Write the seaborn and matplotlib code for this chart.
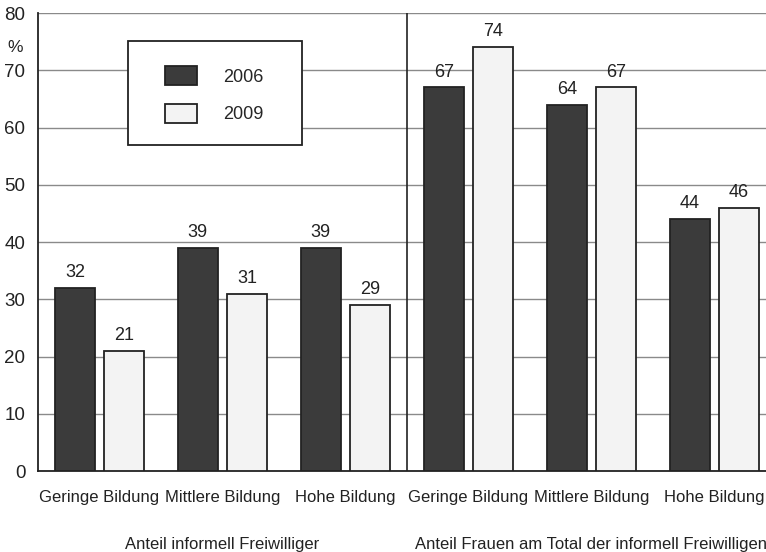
import numpy as np
import pandas as pd
import matplotlib.pyplot as plt
import matplotlib.patches as mpatches
import seaborn as sns

# Werte aus der Grafik
bildung = ['Geringe Bildung', 'Mittlere Bildung', 'Hohe Bildung',
           'Geringe Bildung', 'Mittlere Bildung', 'Hohe Bildung']
gruppe_keys = ['A1', 'A2', 'A3', 'F1', 'F2', 'F3']
gruppen = ['Anteil informell Freiwilliger',
           'Anteil Frauen am Total der informell Freiwilligen']
werte_2006 = [32, 39, 39, 67, 64, 44]
werte_2009 = [21, 31, 29, 74, 67, 46]
jahre = ['2006', '2009']

df = pd.DataFrame({
    'Kategorie': gruppe_keys * 2,
    'Jahr': [jahre[0]] * 6 + [jahre[1]] * 6,
    'Wert': werte_2006 + werte_2009,
})

sns.set_style('white')
plt.rcParams['font.family'] = ['Liberation Sans', 'DejaVu Sans']
fs = 12

fig = plt.figure(figsize=(7.66, 5.52), dpi=100)
ax = fig.add_axes([0.0496, 0.1467, 0.9634, 0.8297])

sns.barplot(data=df, x='Kategorie', y='Wert', hue='Jahr', order=gruppe_keys,
            palette=['#3b3b3b', '#f3f3f3'], edgecolor='#222222',
            linewidth=1.3, gap=0.175, ax=ax, zorder=3)

for cont in ax.containers:
    ax.bar_label(cont, fmt='%d', padding=5, fontsize=fs + 1, color='#222222')

ax.set_ylim(0, 80)
ax.set_xlim(-0.5, 5.5)
ax.set_yticks(range(0, 81, 10))
ax.yaxis.grid(True, color='#8a8a8a', linewidth=1.0, zorder=0)
ax.set_axisbelow(True)
ax.axvline(2.5, color='#222222', linewidth=1.2, zorder=4)

for s in ['top', 'right']:
    ax.spines[s].set_visible(False)
for s in ['left', 'bottom']:
    ax.spines[s].set_color('#222222')
    ax.spines[s].set_linewidth(1.3)

ax.tick_params(axis='both', length=0, labelsize=fs + 1.5, colors='#222222')
ax.tick_params(axis='y', pad=9)
ax.tick_params(axis='x', pad=14)
ax.set_xticks(range(6))
ax.set_xticklabels(bildung, fontsize=fs)
ax.set_xlabel('')
ax.set_ylabel('')

ax.text(-0.031, 74, '%', transform=ax.get_yaxis_transform(),
        ha='center', va='center', fontsize=fs + 0.5, color='#222222')

trans = ax.get_xaxis_transform()
ax.text(1, -0.16, gruppen[0], transform=trans, ha='center', va='center',
        fontsize=fs, color='#222222')
ax.text(4, -0.16, gruppen[1], transform=trans, ha='center', va='center',
        fontsize=fs, color='#222222')

# Legendenrahmen
box = mpatches.Rectangle((0.122, 0.712), 0.236, 0.227, transform=ax.transAxes,
                         facecolor='white', edgecolor='#222222',
                         linewidth=1.3, zorder=5)
ax.add_patch(box)
handles, labels = ax.get_legend_handles_labels()
leg = ax.legend(handles, labels, loc='upper left',
                bbox_to_anchor=(0.172, 0.884), frameon=False,
                borderpad=0, handlelength=1.8, handleheight=1.25,
                handletextpad=1.4, labelspacing=1.0,
                fontsize=fs + 1, borderaxespad=0)
leg.set_zorder(6)

fig.savefig('out.png', dpi=100)
